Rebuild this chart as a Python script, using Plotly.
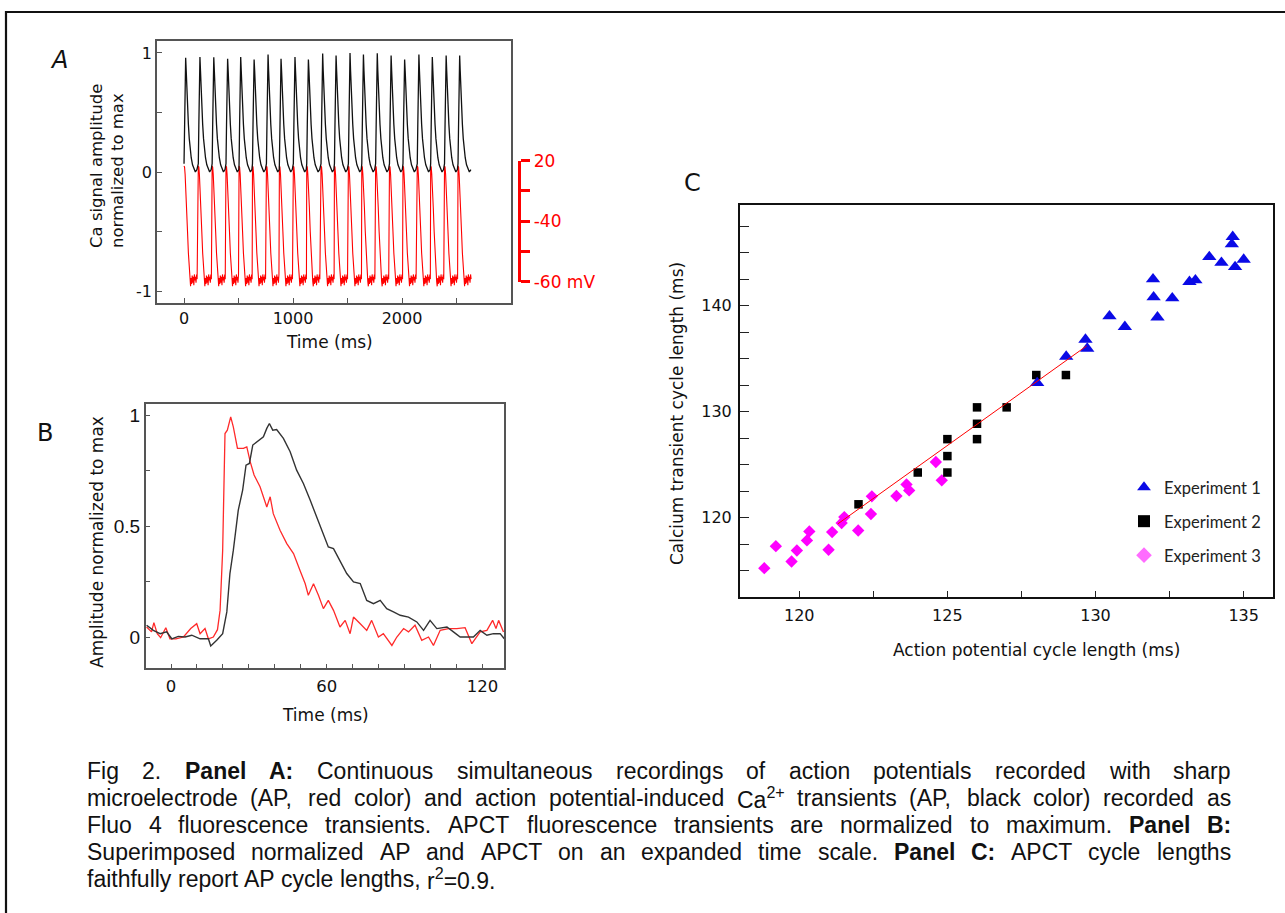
import re
import plotly.graph_objects as go

W, H = 1285, 913

# ---------------- Panel A: continuous recordings ----------------
# onset time (ms) of each beat and peak height of each Ca transient
beat_onsets = [0, 131, 258, 385, 505, 628, 756, 875, 1003, 1126, 1257,
               1380, 1508, 1631, 1758, 1885, 2009, 2140, 2263, 2390, 2514]
ca_peaks = [0.96, 0.966, 0.964, 0.95, 0.966, 0.944, 0.986, 0.95, 0.966, 0.944, 0.994,
            0.978, 1.0, 0.986, 0.997, 0.978, 0.944, 0.986, 0.966, 0.978, 0.978]
rec_end = 2640
# one traced beat (ms after onset); None marks the beat's own peak
ca_beat_t = [0, 5, 10, 15, 20, 26, 32, 40, 48, 56, 66, 78, 90, 104, 118]
ca_beat_y = [0.07, 0.40, 0.85, None, 0.85, 0.68, 0.54, 0.40, 0.28, 0.20, 0.12, 0.06, 0.03, 0.0, 0.02]
ap_beat_t = [0, 5, 10, 16, 24, 32, 40, 48, 55, 60, 65, 70, 75, 80, 85, 90, 95, 100, 105, 110, 115, 120]
ap_beat_y = [0.05, 0.04, -0.02, -0.12, -0.30, -0.50, -0.68, -0.82, -0.92, -0.96, -0.89, -0.94,
             -0.87, -0.93, -0.88, -0.95, -0.86, -0.91, -0.88, -0.93, -0.86, -0.90]

# ---------------- Panel B: single beat, expanded ----------------
b_t_ap = [-9.4, -7.5, -6.6, -5.3, -4.0, -2.0, -0.4, 1.9, 4.8, 6.0, 7.6, 9.9, 11.2, 13.1, 14.4,
          16.3, 17.9, 18.9, 19.9, 20.8, 21.7, 23.0, 24.0, 25.6, 27.9, 29.2, 30.5, 32.0, 34.3,
          36.9, 38.2, 39.4, 42.0, 44.6, 47.2, 49.7, 51.7, 52.9, 54.9, 56.8, 58.7, 60.6, 62.6,
          65.1, 67.1, 69.0, 70.3, 72.9, 75.4, 77.3, 79.9, 81.8, 85.1, 87.0, 89.6, 91.5, 94.0,
          96.6, 99.2, 101.1, 103.7, 106.9, 110.1, 113.3, 115.9, 119.1, 121.7, 123.9, 125.2,
          126.2, 128.1]
b_y_ap = [0.045, 0.023, 0.065, 0.015, -0.003, 0.042, -0.008, -0.008, 0.0, 0.018, 0.038, 0.06,
          0.015, 0.038, -0.008, 0.0, 0.033, 0.12, 0.39, 0.917, 0.932, 0.992, 0.947, 0.85, 0.85,
          0.857, 0.79, 0.73, 0.677, 0.586, 0.632, 0.556, 0.481, 0.421, 0.376, 0.30, 0.24, 0.188,
          0.24, 0.188, 0.128, 0.165, 0.12, 0.045, 0.075, 0.015, 0.09, 0.06, 0.03, 0.075, 0.0,
          0.015, -0.038, 0.0, 0.038, 0.023, 0.053, -0.015, 0.0, -0.038, 0.03, 0.038, 0.038,
          0.042, -0.03, 0.023, 0.03, 0.075, 0.038, 0.075, 0.023]
b_t_ca = [-9.4, -6.8, -4.2, -1.7, 0.3, 2.8, 5.4, 8.0, 11.2, 14.4, 15.3, 17.6, 19.9, 21.5, 22.7,
          24.0, 25.9, 27.6, 28.9, 30.2, 31.5, 33.7, 35.6, 36.9, 37.9, 39.2, 40.7, 43.3, 45.9,
          48.4, 51.0, 53.6, 56.1, 58.5, 60.6, 62.6, 65.1, 67.7, 70.3, 72.9, 75.4, 78.0, 80.6,
          83.1, 85.7, 88.3, 91.5, 94.7, 97.3, 99.8, 102.4, 106.3, 108.8, 111.4, 114.0, 116.5,
          119.1, 121.7, 124.2, 126.8, 128.4]
b_y_ca = [0.053, 0.03, 0.015, 0.023, -0.008, 0.003, 0.0, 0.008, -0.008, -0.008, -0.04, -0.015,
          0.015, 0.113, 0.286, 0.39, 0.571, 0.662, 0.774, 0.782, 0.865, 0.887, 0.902, 0.94,
          0.962, 0.932, 0.935, 0.895, 0.835, 0.752, 0.692, 0.617, 0.541, 0.466, 0.406, 0.398,
          0.346, 0.286, 0.248, 0.241, 0.165, 0.15, 0.165, 0.128, 0.113, 0.098, 0.09, 0.068,
          0.03, 0.075, 0.038, 0.045, 0.023, 0.0, 0.0, 0.0, 0.03, 0.008, 0.015, 0.015, -0.008]

# ---------------- Panel C: cycle lengths (ms) ----------------
exp1_ap = [128.03, 129.01, 129.66, 129.72, 130.47, 130.99, 131.94, 131.96, 132.09, 132.59,
           133.17, 133.37, 133.84, 134.25, 134.63, 134.6, 134.71, 135.0]
exp1_ca = [130.2, 132.7, 134.3, 133.45, 136.5, 135.5, 140.0, 138.3, 136.4, 138.2,
           139.75, 139.9, 142.1, 141.55, 144.0, 143.3, 141.15, 141.85]
exp2_ap = [122, 124, 125, 125, 125, 126, 126, 126, 127, 128, 129]
exp2_ca = [118.75, 121.75, 124.9, 123.3, 121.75, 127.9, 126.35, 124.9, 127.9, 130.95, 130.95]
exp3_ap = [118.82, 119.21, 119.74, 119.92, 120.26, 120.34, 120.99, 121.11, 121.43, 121.52,
           121.99, 122.42, 122.45, 123.28, 123.62, 123.71, 124.61, 124.81]
exp3_ca = [112.72, 114.8, 113.35, 114.39, 115.34, 116.19, 114.46, 116.13, 116.98, 117.54,
           116.28, 117.83, 119.5, 119.53, 120.63, 120.06, 122.74, 121.01]
fit_ap = [121.3, 129.7]
fit_ca = [116.9, 133.7]

caption_lines = [
    "Fig 2. <b>Panel</b> <b>A:</b> Continuous simultaneous recordings of action potentials recorded with sharp",
    "microelectrode (AP, red color) and action potential-induced Ca<sup>2+</sup> transients (AP, black color) recorded as",
    "Fluo 4 fluorescence transients. APCT fluorescence transients are normalized to maximum. <b>Panel</b> <b>B:</b>",
    "Superimposed normalized AP and APCT on an expanded time scale. <b>Panel</b> <b>C:</b> APCT cycle lengths",
    "faithfully report AP cycle lengths, r<sup>2</sup>=0.9.",
]


def tile(onsets, shape_t, shape_y, peaks=None):
    xs, ys = [], []
    for i, t0 in enumerate(onsets):
        span = (onsets[i + 1] if i + 1 < len(onsets) else rec_end) - t0
        for dt, v in zip(shape_t, shape_y):
            if dt >= span:
                break
            xs.append(t0 + dt)
            ys.append(peaks[i] if v is None else v)
    return xs, ys


def px(x):
    return x / W


def py(y):
    return 1 - y / H


COMIC = "DejaVu Sans"
ARIALF = "Liberation Sans"

fig = go.Figure()

# panel A
ap_x, ap_y = tile(beat_onsets, ap_beat_t, ap_beat_y)
ca_x, ca_y = tile(beat_onsets, ca_beat_t, ca_beat_y, ca_peaks)
fig.add_trace(go.Scatter(x=ap_x, y=ap_y, mode="lines", line=dict(color="#ff0000", width=1.1),
                         xaxis="x", yaxis="y", showlegend=False, hoverinfo="skip"))
fig.add_trace(go.Scatter(x=ca_x, y=ca_y, mode="lines", line=dict(color="#111111", width=1.3),
                         xaxis="x", yaxis="y", showlegend=False, hoverinfo="skip"))
# keeps the red mV scale axis alive
fig.add_trace(go.Scatter(x=[None], y=[None], xaxis="x", yaxis="y2", showlegend=False,
                         hoverinfo="skip"))

# panel B
fig.add_trace(go.Scatter(x=b_t_ap, y=b_y_ap, mode="lines", line=dict(color="#ff2a2a", width=1.3),
                         xaxis="x2", yaxis="y3", showlegend=False, hoverinfo="skip"))
fig.add_trace(go.Scatter(x=b_t_ca, y=b_y_ca, mode="lines", line=dict(color="#333333", width=1.4),
                         xaxis="x2", yaxis="y3", showlegend=False, hoverinfo="skip"))

# panel C
fig.add_trace(go.Scatter(x=exp3_ap, y=exp3_ca, mode="markers", name="Experiment 3",
                         marker=dict(symbol="diamond", size=9.5, color="#ff00ff"),
                         xaxis="x3", yaxis="y4", legendgroup="e3", showlegend=False))
# legend key for experiment 3 is drawn in a lighter pink in the original
fig.add_trace(go.Scatter(x=[None], y=[None], mode="markers", name="Experiment 3",
                         marker=dict(symbol="diamond", size=9.5, color="#ff6cff"),
                         xaxis="x3", yaxis="y4", legendgroup="e3", legendrank=3))
fig.add_trace(go.Scatter(x=exp2_ap, y=exp2_ca, mode="markers", name="Experiment 2",
                         marker=dict(symbol="square", size=8.5, color="#000000"),
                         xaxis="x3", yaxis="y4", legendgroup="e2", legendrank=2))
fig.add_trace(go.Scatter(x=exp1_ap, y=exp1_ca, mode="markers", name="Experiment 1",
                         marker=dict(symbol="triangle-up", size=12.5, color="#0a0ae6"),
                         xaxis="x3", yaxis="y4", legendgroup="e1", legendrank=1))
fig.add_trace(go.Scatter(x=fit_ap, y=fit_ca, mode="lines", line=dict(color="#ff0000", width=1),
                         xaxis="x3", yaxis="y4", showlegend=False, hoverinfo="skip"))

frame = dict(showline=True, mirror=True, ticks="inside", showgrid=False, zeroline=False,
             automargin=False)

fig.update_layout(
    template="none",
    width=W, height=H, margin=dict(l=0, r=0, t=0, b=0, pad=0, autoexpand=False),
    paper_bgcolor="white", plot_bgcolor="rgba(0,0,0,0)",
    xaxis=dict(domain=[px(157), px(511)], range=[-248, 3000], anchor="y",
               linecolor="#555", linewidth=1.5, tickcolor="#555", ticklen=5,
               tickvals=[0, 500, 1000, 1500, 2000, 2500],
               ticktext=["0", "", "1000", "", "2000", ""],
               tickfont=dict(family=COMIC, size=16, color="#111"), **frame),
    yaxis=dict(domain=[py(303), py(41)], range=[-1.1, 1.1], anchor="x",
               linecolor="#555", linewidth=1.5, tickcolor="#555", ticklen=5,
               tickvals=[-1, -0.5, 0, 0.5, 1], ticktext=["-1", "", "0", "", "1"],
               tickfont=dict(family=COMIC, size=16, color="#111"), **frame),
    yaxis2=dict(domain=[py(281.7), py(160.7)], range=[0, 4], anchor="free",
                position=px(519.3), side="right", showline=True, linecolor="#ff0000",
                linewidth=3, ticks="outside", ticklen=9, tickwidth=3, tickcolor="#ff0000",
                tickvals=[0, 1, 2, 3, 4], ticktext=["-60 mV", "", "-40", "", "20"],
                tickfont=dict(family=COMIC, size=17, color="#ff0000"),
                showgrid=False, zeroline=False, automargin=False),
    xaxis2=dict(domain=[px(145.7), px(504.3)], range=[-9.75, 128.4], anchor="y3",
                linecolor="#555", linewidth=1.5, tickcolor="#555", ticklen=5,
                tickvals=list(range(0, 130, 10)),
                ticktext=["0", "", "", "", "", "", "60", "", "", "", "", "", "120"],
                ticklabelstandoff=2,
                tickfont=dict(family=COMIC, size=16.5, color="#111"), **frame),
    yaxis3=dict(domain=[py(668.3), py(404)], range=[-0.141, 1.05], anchor="x2",
                linecolor="#555", linewidth=1.5, tickcolor="#555", ticklen=5,
                tickvals=[0, 0.25, 0.5, 0.75, 1], ticktext=["0", "", "0.5", "", "1"],
                tickfont=dict(family=ARIALF, size=19, color="#111"), **frame),
    xaxis3=dict(domain=[px(740), px(1273.3)], range=[118, 136], anchor="y4",
                linecolor="#111", linewidth=2, tickcolor="#222", ticklen=6,
                tickvals=[120, 122.5, 125, 127.5, 130, 132.5, 135],
                ticktext=["120", "", "125", "", "130", "", "135"], ticklabelstandoff=3,
                tickfont=dict(family=COMIC, size=16, color="#111"), **frame),
    yaxis4=dict(domain=[py(597), py(205)], range=[110, 147], anchor="x3",
                linecolor="#111", linewidth=2, tickcolor="#222", ticklen=9,
                tickvals=[112.5 + 2.5 * k for k in range(14)],
                ticktext=["", "", "120", "", "", "", "130", "", "", "", "140", "", "", ""],
                ticklabelstandoff=3,
                tickfont=dict(family=COMIC, size=16, color="#111"), **frame),
    legend=dict(x=px(1124), y=py(470), xanchor="left", yanchor="top",
                bgcolor="rgba(0,0,0,0)", traceorder="grouped", tracegroupgap=9.5,
                itemsizing="constant",
                font=dict(family="Lato", size=16.5, color="#222")),
)

# outer frame of the figure
fig.add_shape(type="rect", xref="paper", yref="paper", x0=px(6), x1=1.05, y0=-0.05, y1=py(12),
              line=dict(color="#111", width=2.2), fillcolor="rgba(0,0,0,0)")

labels = [
    ("<i>A</i>", 59, 60, 0, 24),
    ("B", 45, 433, 0, 24),
    ("C", 692, 183, 0, 24),
    ("Ca signal amplitude<br>normalized to max", 107, 166, -90, 16.5),
    ("Time (ms)", 329, 342, 0, 17),
    ("Amplitude normalized to max", 97, 542, -90, 17),
    ("Time (ms)", 325, 715, 0, 17),
    ("Calcium transient cycle length (ms)", 677, 414, -90, 17),
    ("Action potential cycle length (ms)", 1036, 650, 0, 17),
]
for text, x, y, ang, size in labels:
    fig.add_annotation(text=text, x=px(x), y=py(y), xref="paper", yref="paper",
                       xanchor="center", yanchor="middle",
                       showarrow=False, textangle=ang, align="left",
                       font=dict(family=COMIC, size=size, color="#111"))

# caption, justified word by word using Arial/Liberation Sans advance widths
ARIAL = {" ": 278, ".": 278, ",": 278, ":": 278, "(": 333, ")": 333, "-": 333, "=": 584, "+": 584}
ARIAL.update({d: 556 for d in "0123456789"})
ARIAL.update(dict(zip("abcdefghijklmnopqrstuvwxyz",
                      [556, 556, 500, 556, 556, 278, 556, 556, 222, 222, 500, 222, 833,
                       556, 556, 556, 556, 333, 500, 278, 556, 500, 722, 500, 500, 500])))
ARIAL.update(dict(zip("ABCDEFGHIJKLMNOPQRSTUVWXYZ",
                      [667, 667, 722, 722, 667, 611, 778, 722, 278, 500, 667, 556, 833,
                       722, 778, 667, 778, 722, 667, 611, 722, 667, 944, 667, 667, 611])))
ARIAL_B = dict(ARIAL)
ARIAL_B.update({"n": 611, "l": 278, "A": 722, "B": 722, "C": 722, "P": 667, ":": 333})

CAP_SIZE = 23
CAP_LEFT, CAP_RIGHT = 86, 1230
cap_rows = [771, 798, 825, 852, 879]


def word_width(word):
    table = ARIAL_B if "<b>" in word else ARIAL
    plain = re.sub(r"</?b>", "", word)
    total = 0.0
    for chunk in re.split(r"(<sup>.*?</sup>)", plain):
        scale = 1.0
        if chunk.startswith("<sup>"):
            chunk, scale = chunk[5:-6], 0.7
        for ch in chunk:
            total += table.get(ch, 556) * scale
    return total * CAP_SIZE / 1000


for row, line in enumerate(caption_lines):
    words = line.split(" ")
    widths = [word_width(w) for w in words]
    if row < len(caption_lines) - 1:
        gap = (CAP_RIGHT - CAP_LEFT - sum(widths)) / (len(words) - 1)
    else:
        gap = ARIAL[" "] * CAP_SIZE / 1000
    x = CAP_LEFT
    for w, wd in zip(words, widths):
        fig.add_annotation(text=w, x=px(x), y=py(cap_rows[row]), xref="paper", yref="paper",
                           xanchor="left", yanchor="middle", showarrow=False, borderpad=0,
                           font=dict(family=ARIALF, size=CAP_SIZE, color="#111"))
        x += wd + gap

fig.write_html("out.html", config={"displayModeBar": False},
               post_script="document.body.style.margin='0px';")
